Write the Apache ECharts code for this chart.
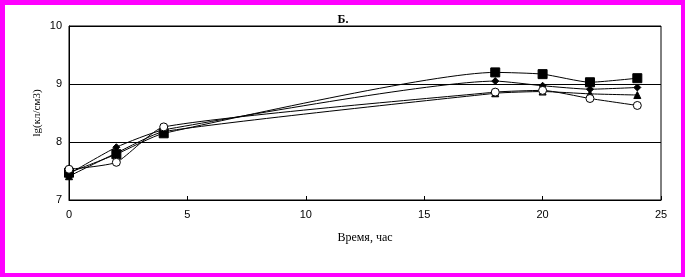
<!DOCTYPE html>
<html>
<head>
<meta charset="utf-8">
<script src="https://cdn.jsdelivr.net/npm/echarts@6/dist/echarts.min.js"></script>
<style>
  html, body { margin: 0; padding: 0; background: #fff; }
  #chart {
    width: 685px;
    height: 277px;
    box-sizing: border-box;
    border: 5px solid #ff00ff;
    border-bottom-width: 4px;
    border-right-width: 4px;
  }
</style>
</head>
<body>
<div id="chart"></div>
<script>
  // время, час
  const hours = [0, 2, 4, 18, 20, 22, 24]
  // lg(кл/см3) для четырёх серий
  const seriesSquare = [7.47, 7.79, 8.15, 9.20, 9.17, 9.03, 9.10]
  const seriesDiamond = [7.45, 7.91, 8.21, 9.05, 8.97, 8.91, 8.94]
  const seriesTriangle = [7.41, 7.81, 8.18, 8.84, 8.87, 8.83, 8.81]
  const seriesCircle = [7.53, 7.65, 8.26, 8.86, 8.89, 8.75, 8.63]

  const serif = '"Liberation Serif", "DejaVu Serif", serif'
  const sans = '"Liberation Sans", Arial, sans-serif'

  const chart = echarts.init(document.getElementById('chart'))

  function line(data, symbol, size, fill) {
    return {
      type: 'line',
      data: hours.map((h, i) => [h, data[i]]),
      smooth: 0.18,
      symbol: symbol,
      symbolSize: size,
      showAllSymbol: true,
      lineStyle: {color: '#000', width: 1},
      itemStyle: {color: fill, borderColor: '#000', borderWidth: 1},
      emphasis: {disabled: true},
      animation: false
    }
  }

  const option = {
    animation: false,
    title: {
      text: 'Б.',
      left: 'center',
      top: 4,
      textStyle: {fontFamily: serif, fontSize: 12, fontWeight: 'bold', color: '#000'}
    },
    grid: {left: 64, right: 20, top: 21, bottom: 73, show: true, borderColor: '#000', borderWidth: 1},
    xAxis: {
      type: 'value',
      min: 0,
      max: 25,
      interval: 5,
      name: 'Время, час',
      nameLocation: 'middle',
      nameGap: 32,
      nameTextStyle: {fontFamily: serif, fontSize: 12, color: '#000'},
      axisLine: {lineStyle: {color: '#000', width: 1}},
      axisTick: {inside: true, length: 4, lineStyle: {color: '#000'}},
      axisLabel: {fontFamily: sans, fontSize: 11, color: '#000', margin: 9},
      splitLine: {show: false}
    },
    yAxis: {
      type: 'value',
      min: 7,
      max: 10,
      interval: 1,
      name: 'lg(кл/см3)',
      nameLocation: 'middle',
      nameGap: 26,
      nameMoveOverlap: false,
      nameTextStyle: {fontFamily: serif, fontSize: 11, color: '#000'},
      axisLine: {show: true, lineStyle: {color: '#000', width: 1}},
      axisTick: {show: false},
      axisLabel: {fontFamily: sans, fontSize: 11, color: '#000', margin: 7},
      splitLine: {show: true, lineStyle: {color: '#000', width: 1}}
    },
    series: [
      line(seriesSquare, 'rect', 9, '#000'),
      line(seriesDiamond, 'diamond', 7, '#000'),
      line(seriesTriangle, 'triangle', 7, '#000'),
      line(seriesCircle, 'circle', 8, '#fff')
    ]
  }

  chart.setOption(option)
</script>
</body>
</html>
